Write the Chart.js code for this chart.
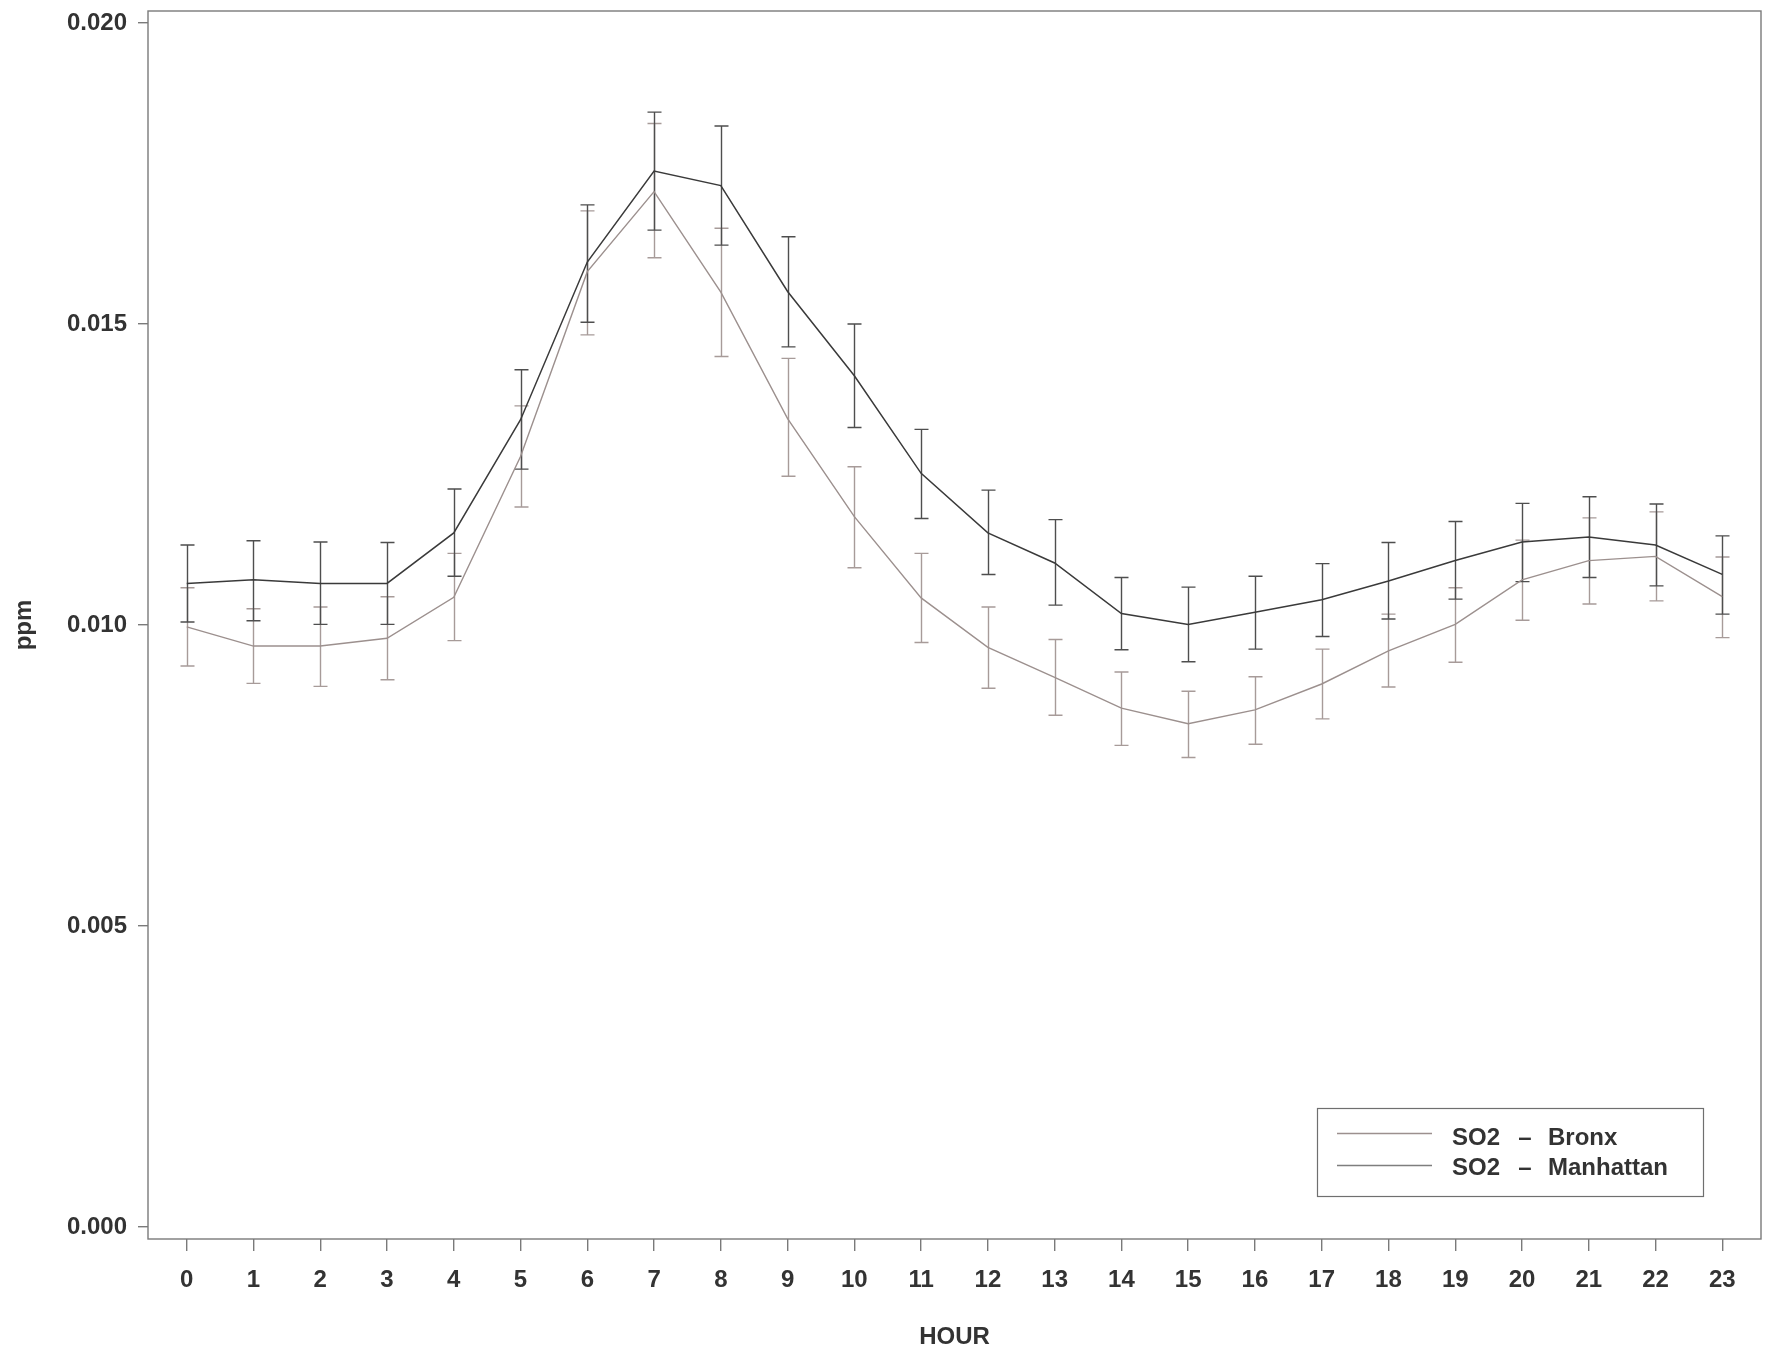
<!DOCTYPE html>
<html>
<head>
<meta charset="utf-8">
<title>SO2 by hour — Bronx and Manhattan</title>
<script src="https://cdn.jsdelivr.net/npm/chart.js@4/dist/chart.umd.min.js"></script>
<style>
  html, body { margin: 0; padding: 0; background: #ffffff; }
  #wrap { width: 1767px; height: 1350px; }
</style>
</head>
<body>
<div id="wrap"><canvas id="chart" width="1767" height="1350"></canvas></div>
<script>
// Hour of day
const hours = [0, 1, 2, 3, 4, 5, 6, 7, 8, 9, 10, 11, 12, 13, 14, 15, 16, 17, 18, 19, 20, 21, 22, 23];

// Y axis tick values (ppm)
const yTicks = [0.000, 0.005, 0.010, 0.015, 0.020];

// Series names
const seriesNames = ['Bronx', 'Manhattan'];
const pollutant = 'SO2';

// Bronx: mean and error-bar limits (ppm)
const bronxMean = [0.00997, 0.00965, 0.00965, 0.00978, 0.01046, 0.01280, 0.01587, 0.01720, 0.01553, 0.01343, 0.01180, 0.01045,
                   0.00963, 0.00913, 0.00862, 0.00836, 0.00859, 0.00902, 0.00957, 0.01001, 0.01075, 0.01107, 0.01114, 0.01047];
const bronxHigh = [0.01062, 0.01027, 0.01030, 0.01047, 0.01119, 0.01364, 0.01688, 0.01833, 0.01659, 0.01443, 0.01263, 0.01119,
                   0.01030, 0.00976, 0.00922, 0.00890, 0.00914, 0.00960, 0.01018, 0.01062, 0.01141, 0.01178, 0.01188, 0.01113];
const bronxLow  = [0.00932, 0.00903, 0.00898, 0.00909, 0.00974, 0.01196, 0.01482, 0.01610, 0.01446, 0.01247, 0.01095, 0.00971,
                   0.00895, 0.00850, 0.00800, 0.00780, 0.00802, 0.00844, 0.00897, 0.00938, 0.01008, 0.01035, 0.01040, 0.00979];

// Manhattan: mean and error-bar limits (ppm)
const manhattanMean = [0.01069, 0.01075, 0.01069, 0.01069, 0.01153, 0.01341, 0.01603, 0.01754, 0.01730, 0.01554, 0.01414, 0.01252,
                       0.01153, 0.01103, 0.01019, 0.01001, 0.01021, 0.01042, 0.01073, 0.01107, 0.01138, 0.01146, 0.01133, 0.01084];
const manhattanHigh = [0.01133, 0.01140, 0.01138, 0.01137, 0.01226, 0.01424, 0.01698, 0.01852, 0.01829, 0.01645, 0.01500, 0.01325,
                       0.01224, 0.01175, 0.01079, 0.01063, 0.01081, 0.01102, 0.01137, 0.01172, 0.01202, 0.01213, 0.01201, 0.01148];
const manhattanLow  = [0.01005, 0.01007, 0.01001, 0.01001, 0.01081, 0.01259, 0.01503, 0.01656, 0.01631, 0.01462, 0.01328, 0.01177,
                       0.01084, 0.01033, 0.00959, 0.00939, 0.00960, 0.00981, 0.01010, 0.01043, 0.01072, 0.01079, 0.01065, 0.01018];

const FONT = '"Liberation Sans", Arial, Helvetica, sans-serif';
const TEXT = '#333333';
const AXIS = '#7a7a7a';
const BRONX_LINE = '#9c908e';
const BRONX_BAR = '#a79b99';
const MAN_LINE = '#3a3a3a';
const MAN_BAR = '#4e4e4e';

const toPoints = (vals) => hours.map((h, i) => ({ x: h, y: vals[i] }));

// Vertical error bars with caps, placed through the chart's scales
const errorBars = {
  id: 'errorBars',
  beforeDatasetsDraw(chart) {
    const { ctx, scales: { x, y } } = chart;
    const sets = [
      { low: bronxLow, high: bronxHigh, color: BRONX_BAR },
      { low: manhattanLow, high: manhattanHigh, color: MAN_BAR }
    ];
    const cap = 7;
    ctx.save();
    ctx.lineWidth = 1.4;
    sets.forEach(s => {
      ctx.strokeStyle = s.color;
      hours.forEach((h, i) => {
        const px = Math.round(x.getPixelForValue(h)) + 0.5;
        const yl = y.getPixelForValue(s.low[i]);
        const yh = y.getPixelForValue(s.high[i]);
        ctx.beginPath();
        ctx.moveTo(px, yl); ctx.lineTo(px, yh);
        ctx.moveTo(px - cap, yh); ctx.lineTo(px + cap, yh);
        ctx.moveTo(px - cap, yl); ctx.lineTo(px + cap, yl);
        ctx.stroke();
      });
    });
    ctx.restore();
  }
};

// Box around the plotting region and the legend inside it
const frameAndLegend = {
  id: 'frameAndLegend',
  afterDraw(chart) {
    const { ctx, chartArea: a } = chart;
    ctx.save();
    ctx.strokeStyle = AXIS;
    ctx.lineWidth = 1.4;
    ctx.strokeRect(a.left, a.top, a.right - a.left, a.bottom - a.top);

    // legend box
    const box = { x: 1317, y: 1108, w: 386, h: 88 };
    ctx.fillStyle = '#ffffff';
    ctx.fillRect(box.x, box.y, box.w, box.h);
    ctx.strokeStyle = '#6f6f6f';
    ctx.lineWidth = 1.2;
    ctx.strokeRect(box.x + 0.5, box.y + 0.5, box.w, box.h);

    const rows = [
      { name: seriesNames[0], color: BRONX_LINE, lineY: 1133, textY: 1138 },
      { name: seriesNames[1], color: '#7e7e7e', lineY: 1165, textY: 1168 }
    ];
    ctx.font = 'bold 24px ' + FONT;
    ctx.textBaseline = 'middle';
    rows.forEach(r => {
      ctx.strokeStyle = r.color;
      ctx.lineWidth = 1.4;
      ctx.beginPath();
      ctx.moveTo(1337, r.lineY + 0.5);
      ctx.lineTo(1432, r.lineY + 0.5);
      ctx.stroke();
      ctx.fillStyle = TEXT;
      ctx.textAlign = 'left';
      ctx.fillText(pollutant, 1452, r.textY);
      ctx.textAlign = 'center';
      ctx.fillText('\u2013', 1525, r.textY);
      ctx.textAlign = 'left';
      ctx.fillText(r.name, 1548, r.textY);
    });
    ctx.restore();
  }
};

new Chart(document.getElementById('chart'), {
  type: 'line',
  data: {
    datasets: [
      {
        label: pollutant + ' \u2013 ' + seriesNames[0],
        data: toPoints(bronxMean),
        borderColor: BRONX_LINE,
        borderWidth: 1.4,
        pointRadius: 0,
        tension: 0,
        fill: false
      },
      {
        label: pollutant + ' \u2013 ' + seriesNames[1],
        data: toPoints(manhattanMean),
        borderColor: MAN_LINE,
        borderWidth: 1.5,
        pointRadius: 0,
        tension: 0,
        fill: false
      }
    ]
  },
  options: {
    responsive: false,
    animation: false,
    devicePixelRatio: 1,
    layout: { padding: { top: 11, right: 6, left: 0, bottom: 0 } },
    plugins: {
      legend: { display: false },
      tooltip: { enabled: false }
    },
    scales: {
      x: {
        type: 'linear',
        min: -0.58,
        max: 23.58,
        afterBuildTicks: s => { s.ticks = hours.map(v => ({ value: v })); },
        afterFit: s => { s.height = 111; s.paddingLeft = 0; s.paddingRight = 0; },
        border: { display: false },
        grid: { display: true, drawOnChartArea: false, drawTicks: true, tickLength: 12, color: AXIS, lineWidth: 1.4 },
        ticks: {
          autoSkip: false, maxRotation: 0, padding: 15, color: TEXT,
          font: { family: FONT, size: 24, weight: 'bold' },
          callback: v => String(v)
        },
        title: {
          display: true, text: 'HOUR', color: TEXT,
          font: { family: FONT, size: 24, weight: 'bold', lineHeight: 1 },
          padding: { top: 0, bottom: 1 }
        }
      },
      y: {
        type: 'linear',
        min: -0.0002,
        max: 0.0202,
        afterBuildTicks: s => { s.ticks = yTicks.map(v => ({ value: v })); },
        afterFit: s => { s.width = 148; s.paddingTop = 0; s.paddingBottom = 0; },
        border: { display: false },
        grid: { display: true, drawOnChartArea: false, drawTicks: true, tickLength: 10, color: AXIS, lineWidth: 1.4 },
        ticks: {
          padding: 11, color: TEXT,
          font: { family: FONT, size: 24, weight: 'bold' },
          callback: v => Number(v).toFixed(3)
        },
        title: {
          display: true, text: 'ppm', color: TEXT,
          font: { family: FONT, size: 24, weight: 'bold', lineHeight: 1 },
          padding: { top: 12, bottom: 0 }
        }
      }
    }
  },
  plugins: [errorBars, frameAndLegend]
});
</script>
</body>
</html>
